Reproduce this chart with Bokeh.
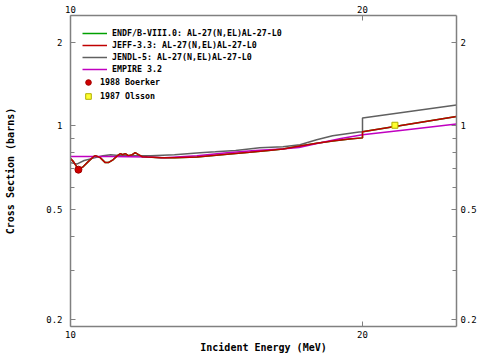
from bokeh.plotting import figure
from bokeh.models import LogAxis, FixedTicker, Legend, LegendItem, CustomJSTickFormatter
from bokeh.embed import file_html
from bokeh.resources import INLINE

# JEFF-3.3 elastic cross section (MeV, barns)
jeff_e = [10.0, 10.07, 10.19, 10.31, 10.43, 10.56, 10.61, 10.73, 10.86, 10.94, 11.07, 11.18,
          11.26, 11.31, 11.39, 11.47, 11.58, 11.66, 11.75, 11.86, 12.0, 12.4, 12.8, 13.5, 14.5,
          15.3, 16.0, 16.56, 17.24, 17.94, 18.63, 19.39, 20.0, 20.0, 25.0]
jeff_xs = [0.762, 0.743, 0.696, 0.713, 0.743, 0.774, 0.781, 0.768, 0.737, 0.737, 0.756, 0.781,
           0.794, 0.787, 0.794, 0.781, 0.787, 0.800, 0.787, 0.774, 0.772, 0.768, 0.768, 0.772, 0.79,
           0.803, 0.815, 0.825, 0.846, 0.866, 0.882, 0.897, 0.905, 0.952, 1.08]

# ENDF/B-VIII.0 (lies under JEFF-3.3 in the plot)
endf_e = list(jeff_e)
endf_xs = list(jeff_xs)

# JENDL-5
jendl_e = [10.0, 10.15, 10.33, 10.56, 10.8, 11.0, 11.2, 11.6, 12.1, 12.8, 13.6, 14.1, 14.8,
           15.67, 16.56, 17.24, 17.94, 18.63, 19.84, 20.0, 20.0, 25.0]
jendl_xs = [0.737, 0.728, 0.75, 0.765, 0.78, 0.787, 0.782, 0.78, 0.78, 0.787, 0.80, 0.806, 0.815,
            0.834, 0.841, 0.855, 0.891, 0.921, 0.95, 0.952, 1.068, 1.19]

# EMPIRE 3.2
emp_e = [10.0, 11.0, 12.0, 12.5, 13.5, 14.5, 15.5, 16.5, 17.2, 18.0, 19.0, 20.0, 22.0, 25.0]
emp_xs = [0.775, 0.775, 0.772, 0.768, 0.78, 0.80, 0.815, 0.825, 0.835, 0.865, 0.90, 0.928, 0.965, 1.015]

# Experimental points
boerker_e = [10.19]
boerker_xs = [0.695]
olsson_e = [21.6]
olsson_xs = [1.005]

labels = ["ENDF/B-VIII.0: AL-27(N,EL)AL-27-L0", "JEFF-3.3: AL-27(N,EL)AL-27-L0",
          "JENDL-5: AL-27(N,EL)AL-27-L0", "EMPIRE 3.2", "1988 Boerker", "1987 Olsson"]

x_ticks = [10, 20]
y_ticks = [0.2, 0.5, 1, 2]
y_minor = [0.3, 0.4, 0.6, 0.7, 0.8, 0.9]

MONO = "DejaVu Sans Mono"
AX = "#808080"

p = figure(frame_width=386, frame_height=311, x_axis_type="log", y_axis_type="log",
           x_range=(10, 25), y_range=(0.189, 2.5), output_backend="svg",
           toolbar_location=None, min_border_left=70, min_border_right=24,
           min_border_top=15, min_border_bottom=28)
p.xgrid.visible = False
p.ygrid.visible = False
p.outline_line_color = None

fmt = CustomJSTickFormatter(code="return tick.toString();")

def style(ax, ticks, minor):
    ax.ticker = FixedTicker(ticks=ticks, minor_ticks=minor)
    ax.formatter = fmt
    ax.axis_line_color = AX
    ax.axis_line_width = 1.5
    ax.major_tick_line_color = AX
    ax.minor_tick_line_color = AX
    ax.major_tick_in = 5
    ax.major_tick_out = 0
    ax.minor_tick_in = 4
    ax.minor_tick_out = 0
    ax.major_label_text_font = MONO
    ax.major_label_text_font_size = "9px"
    ax.major_label_text_color = "black"
    ax.axis_label_text_font = MONO
    ax.axis_label_text_font_style = "bold"
    ax.axis_label_text_font_size = "10px"
    ax.axis_label_text_color = "black"

bottom = p.xaxis[0]
style(bottom, x_ticks, [])
bottom.axis_label = "Incident Energy (MeV)"
bottom.major_label_standoff = 4
bottom.axis_label_standoff = 1

left = p.yaxis[0]
style(left, y_ticks, y_minor)
left.axis_label = "Cross Section (barns)"
left.major_label_standoff = 8
left.axis_label_standoff = 27

top = LogAxis()
style(top, x_ticks, [])
top.major_label_standoff = 3
p.add_layout(top, "above")

right = LogAxis()
style(right, y_ticks, y_minor)
right.major_label_standoff = 4
p.add_layout(right, "right")

r_endf = p.line(endf_e, endf_xs, line_color="#00a000", line_width=1.5)
r_jendl = p.line(jendl_e, jendl_xs, line_color="#606060", line_width=1.5)
r_emp = p.line(emp_e, emp_xs, line_color="#c000c0", line_width=1.5)
r_jeff = p.line(jeff_e, jeff_xs, line_color="#c00000", line_width=1.5)
r_boer = p.scatter(boerker_e, boerker_xs, marker="circle", size=7,
                   fill_color="#d00000", line_color="#a00000")
r_ols = p.scatter(olsson_e, olsson_xs, marker="square", size=6,
                  fill_color="#ffff30", line_color="#b0b000")

common = dict(background_fill_alpha=0, border_line_alpha=0, label_text_font=MONO,
              label_text_font_style="bold", label_text_font_size="8.3px",
              label_text_color="black",
              spacing=0, padding=12, margin=0, label_standoff=5)

leg1 = Legend(items=[LegendItem(label=labels[0], renderers=[r_endf]),
                     LegendItem(label=labels[1], renderers=[r_jeff]),
                     LegendItem(label=labels[2], renderers=[r_jendl]),
                     LegendItem(label=labels[3], renderers=[r_emp])],
              location="top_left", glyph_width=25, glyph_height=12, label_height=12, **common)
leg2 = Legend(items=[LegendItem(label=labels[4], renderers=[r_boer]),
                     LegendItem(label=labels[5], renderers=[r_ols])],
              location=(-1, 211), glyph_width=14, glyph_height=14, label_height=14, **common)
p.add_layout(leg1)
p.add_layout(leg2)

open("out.html", "w").write(file_html(p, INLINE))
